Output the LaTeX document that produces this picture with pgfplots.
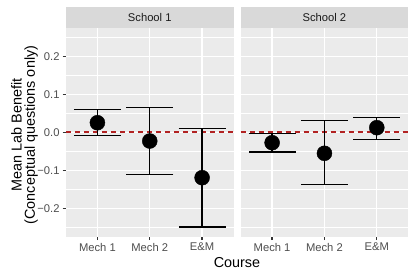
\documentclass[border=0pt]{standalone}
\usepackage{fontspec}
\setmainfont{Liberation Sans}
\usepackage{pgfplots}
\usepackage{pgfplotstable}
\pgfplotsset{compat=1.18}
\definecolor{panelbg}{HTML}{EBEBEB}
\definecolor{stripbg}{HTML}{D9D9D9}
\definecolor{ticklab}{HTML}{4D4D4D}
\definecolor{tickcol}{HTML}{333333}
\definecolor{striptext}{HTML}{1A1A1A}
\definecolor{refred}{HTML}{B22222}
\pgfplotsset{
  facet/.style={
    scale only axis, width=167.5pt, height=208.7pt,
    xmin=0.4, xmax=3.6, ymin=-0.275, ymax=0.275,
    axis background/.style={fill=panelbg},
    axis line style={draw=none},
    xtick={1,2,3}, xticklabels={Mech 1, Mech 2, E\&M},
    ytick={-0.2,-0.1,0,0.1,0.2},
    minor ytick={-0.25,-0.15,-0.05,0.05,0.15,0.25},
    minor tick length=0pt,
    xmajorgrids, ymajorgrids, yminorgrids,
    major grid style={white, line width=1.35pt},
    minor grid style={white, line width=0.68pt},
    tick align=outside, major tick length=3.5pt,
    tick style={tickcol, line width=1.3pt},
    xtick pos=bottom, ytick pos=left,
    xticklabel style={font=\fontsize{11.2}{13}\selectfont, text=ticklab, inner sep=0pt, anchor=north, yshift=-2.8pt},
    yticklabel style={font=\fontsize{11.2}{13}\selectfont, text=ticklab, inner sep=0pt, anchor=east, xshift=-2.8pt},
    clip=false,
  },
  ebar/.style={only marks, mark=*, mark size=7.5pt, black,
    error bars/.cd, y dir=both, y explicit,
    error bar style={line width=1.35pt, black},
    error mark options={rotate=90, mark size=23.5pt, line width=1.35pt, black}},
}
\pgfplotstableread{
x y lo hi
1 0.0254 -0.0078 0.0607
2 -0.0228 -0.1105 0.0660
3 -0.1195 -0.2490 0.0107
}\schoolone
\pgfplotstableread{
x y lo hi
1 -0.0273 -0.0518 -0.0025
2 -0.0552 -0.1380 0.0307
3 0.0123 -0.0183 0.0397
}\schooltwo
\begin{document}
\begin{tikzpicture}[x=1pt,y=1pt]
\path[use as bounding box] (0,0) rectangle (415,277);
\begin{axis}[facet, at={(66pt,40.3pt)}, anchor=south west,
  yticklabels={−0.2,−0.1,0.0,0.1,0.2}]
  \addplot[refred, dash pattern=on 5pt off 4pt, line width=1.8pt, forget plot] coordinates {(0.4,0) (3.6,0)};
  \addplot[ebar] table[x=x, y=y, y error plus expr=\thisrow{hi}-\thisrow{y}, y error minus expr=\thisrow{y}-\thisrow{lo}] {\schoolone};
\end{axis}
\begin{axis}[facet, at={(240.7pt,40.3pt)}, anchor=south west,
  yticklabels={}, ytick style={draw=none}]
  \addplot[refred, dash pattern=on 5pt off 4pt, line width=1.8pt, forget plot] coordinates {(0.4,0) (3.6,0)};
  \addplot[ebar] table[x=x, y=y, y error plus expr=\thisrow{hi}-\thisrow{y}, y error minus expr=\thisrow{y}-\thisrow{lo}] {\schooltwo};
\end{axis}
\fill[stripbg] (66,249) rectangle (233.5,270);
\fill[stripbg] (240.7,249) rectangle (408,270);
\node[text=striptext, font=\fontsize{11.2}{13}\selectfont] at (149.75,259.5) {School 1};
\node[text=striptext, font=\fontsize{11.2}{13}\selectfont] at (324.35,259.5) {School 2};
\node[font=\fontsize{14.4}{13.4}\selectfont, rotate=90, align=center, inner sep=0pt] at (24.5,142) {Mean Lab Benefit\\(Conceptual questions only)};
\node[font=\fontsize{14.4}{16}\selectfont, anchor=base, inner sep=0pt] at (237,10) {Course};
\end{tikzpicture}
\end{document}
